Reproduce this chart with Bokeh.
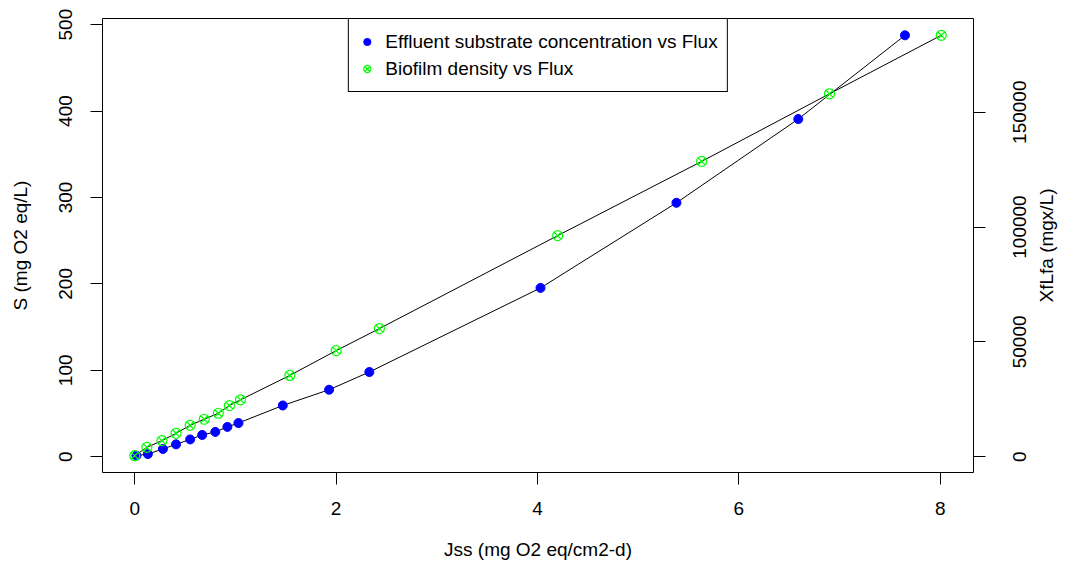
import math
from bokeh.plotting import figure
from bokeh.models import (Range1d, LinearAxis, SingleIntervalTicker, Legend,
                          LegendItem, BasicTickFormatter, FixedTicker)
from bokeh.embed import file_html
from bokeh.resources import INLINE

# Flux (Jss) and effluent substrate concentration S
jss_s = [0.017, 0.13, 0.28, 0.41, 0.55, 0.67, 0.80, 0.92, 1.03, 1.47, 1.93, 2.33,
         4.03, 5.38, 6.59, 7.65]
s_vals = [1.2, 3.1, 9.0, 14.3, 20.0, 25.2, 28.7, 34.5, 39.0, 59.3, 77.5, 98.0,
          195.3, 293.8, 390.7, 487.6]

# Flux (Jss) and biofilm density XfLfa
jss_x = [0.0, 0.12, 0.27, 0.41, 0.55, 0.69, 0.83, 0.94, 1.05, 1.54, 2.00, 2.43,
         4.20, 5.63, 6.90, 8.01]
xf_vals = [440, 4060, 6990, 10180, 13680, 16300, 18920, 22280, 24770, 35390,
           46180, 55800, 96260, 128590, 158030, 183500]

labels = ["Effluent substrate concentration vs Flux", "Biofilm density vs Flux"]
x_title = "Jss (mg O2 eq/cm2-d)"
y_title = "S (mg O2 eq/L)"
y2_title = "XfLfa (mgx/L)"
y2_step = 50000


def padded(vals):
    lo, hi = min(vals), max(vals)
    d = hi - lo
    return lo - 0.04 * d, hi + 0.04 * d


FONT = "Liberation Sans"
FSPX = 19
FS = f"{FSPX}px"

W, H = 1072, 566
BL, BR, BT, BB = 102, W - 973, 18, 94
FRAME_H = H - BT - BB

xf_range = padded(xf_vals)

p = figure(width=W, height=H, output_backend="svg", toolbar_location=None,
           x_range=Range1d(*padded(jss_s + jss_x)),
           y_range=Range1d(*padded(s_vals)),
           min_border_left=BL, min_border_right=BR, min_border_top=BT,
           min_border_bottom=BB, x_axis_location=None, y_axis_location=None)
p.extra_y_ranges = {"xf": Range1d(*xf_range)}
p.grid.visible = False
p.outline_line_color = "black"
p.outline_line_width = 1
p.background_fill_color = "white"
p.border_fill_color = "white"


def style(ax, s1, s2):
    ax.axis_line_color = None
    ax.major_tick_out = 12
    ax.major_tick_in = 0
    ax.minor_tick_out = 0
    ax.minor_tick_in = 0
    ax.major_tick_line_color = "black"
    ax.major_tick_line_width = 1
    ax.major_label_text_font = FONT
    ax.major_label_text_font_size = FS
    ax.major_label_text_color = "black"
    ax.major_label_standoff = s1
    ax.axis_label_text_font = FONT
    ax.axis_label_text_font_size = FS
    ax.axis_label_text_font_style = "normal"
    ax.axis_label_text_color = "black"
    ax.axis_label_standoff = s2
    ax.formatter = BasicTickFormatter(use_scientific=False)


ax_b = LinearAxis(ticker=SingleIntervalTicker(interval=2), axis_label=x_title)
style(ax_b, 17, 21)
p.add_layout(ax_b, "below")

ax_l = LinearAxis(ticker=SingleIntervalTicker(interval=100), axis_label=y_title)
style(ax_l, 18, 26)
ax_l.major_label_orientation = "vertical"
p.add_layout(ax_l, "left")

# --- right axis: tick marks (as minor ticks) and labels reading bottom to top,
#     each label shifted so that it is centred on its tick
r_ticks = [t for t in range(0, int(xf_range[1]) + 1, y2_step) if t >= xf_range[0]]
dpp = (xf_range[1] - xf_range[0]) / FRAME_H  # data units per pixel
DIGIT_EM = 0.556
lab_pos, lab_over = [], {}
for t in r_ticks:
    txt = str(t)
    pos = round(t - 0.5 * DIGIT_EM * FSPX * len(txt) * dpp)
    lab_pos.append(pos)
    lab_over[pos] = txt
ax_r = LinearAxis(y_range_name="xf",
                  ticker=FixedTicker(ticks=lab_pos, minor_ticks=r_ticks))
style(ax_r, 34, 0)
ax_r.major_tick_out = 0
ax_r.major_tick_line_color = None
ax_r.minor_tick_out = 12
ax_r.minor_tick_line_color = "black"
ax_r.minor_tick_line_width = 1
ax_r.major_label_orientation = math.pi / 2
ax_r.major_label_overrides = lab_over
p.add_layout(ax_r, "right")

# --- right axis title, reading bottom to top, centred on the frame
TITLE_EM = 6.0
mid = (xf_range[0] + xf_range[1]) / 2
tpos = round(mid - 0.5 * TITLE_EM * FSPX * dpp)
ax_t = LinearAxis(y_range_name="xf", ticker=FixedTicker(ticks=[tpos]))
style(ax_t, 11, 0)
ax_t.major_tick_out = 0
ax_t.major_tick_line_color = None
ax_t.major_label_orientation = math.pi / 2
ax_t.major_label_overrides = {tpos: y2_title}
p.add_layout(ax_t, "right")

p.line(jss_s, s_vals, line_color="black", line_width=1)
p.line(jss_x, xf_vals, y_range_name="xf", line_color="black", line_width=1)
r_s = p.scatter(jss_s, s_vals, marker="circle", size=9, fill_color="#0000FF",
                line_color="#0000FF")
r_x = p.scatter(jss_x, xf_vals, y_range_name="xf", marker="circle_x", size=10,
                fill_color=None, line_color="#00FF00", line_width=1.2)

legend = Legend(items=[LegendItem(label=labels[0], renderers=[r_s]),
                       LegendItem(label=labels[1], renderers=[r_x])],
                location="top_center", margin=0, padding=9, spacing=0,
                glyph_width=18, glyph_height=27, label_height=27,
                label_standoff=10, label_text_font=FONT, label_text_font_size=FS,
                label_text_color="black",
                border_line_color="black", border_line_width=1,
                border_line_alpha=1,
                background_fill_color="white", background_fill_alpha=1)
p.add_layout(legend)

open("out.html", "w").write(file_html(p, INLINE))
